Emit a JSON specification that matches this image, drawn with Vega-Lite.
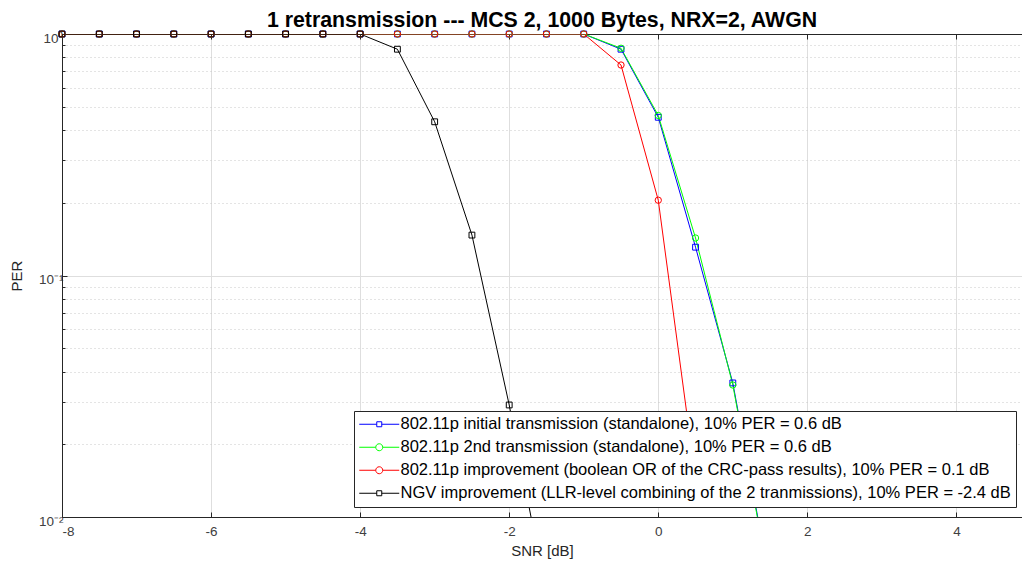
{
  "$schema": "https://vega.github.io/schema/vega-lite/v6.json",
  "width": 960,
  "height": 483,
  "autosize": {"type": "none"},
  "padding": {"left": 62, "top": 34, "right": 0, "bottom": 48},
  "background": "white",
  "title": {
    "text": "1 retransmission --- MCS 2, 1000 Bytes, NRX=2, AWGN",
    "font": "Liberation Sans",
    "fontSize": 21.3,
    "fontWeight": "bold",
    "color": "#000000",
    "anchor": "middle",
    "frame": "group",
    "offset": -2
  },
  "config": {
    "view": {"stroke": null},
    "axis": {
      "labelFont": "Liberation Sans",
      "titleFont": "Liberation Sans",
      "domainColor": "#262626",
      "tickColor": "#262626",
      "labelColor": "#404040",
      "titleColor": "#262626",
      "titleFontWeight": "normal"
    }
  },
  "data": {
    "values": [
      {"s": "init", "snr": -8, "per": 1}, {"s": "init", "snr": -7.5, "per": 1}, {"s": "init", "snr": -7, "per": 1}, {"s": "init", "snr": -6.5, "per": 1},
      {"s": "init", "snr": -6, "per": 1}, {"s": "init", "snr": -5.5, "per": 1}, {"s": "init", "snr": -5, "per": 1}, {"s": "init", "snr": -4.5, "per": 1},
      {"s": "init", "snr": -4, "per": 1}, {"s": "init", "snr": -3.5, "per": 1}, {"s": "init", "snr": -3, "per": 1}, {"s": "init", "snr": -2.5, "per": 1},
      {"s": "init", "snr": -2, "per": 1}, {"s": "init", "snr": -1.5, "per": 1}, {"s": "init", "snr": -1, "per": 1}, {"s": "init", "snr": -0.5, "per": 0.865},
      {"s": "init", "snr": 0, "per": 0.452}, {"s": "init", "snr": 0.5, "per": 0.131}, {"s": "init", "snr": 1, "per": 0.0359}, {"s": "init", "snr": 1.5, "per": 0.0053},
      {"s": "2nd", "snr": -8, "per": 1}, {"s": "2nd", "snr": -7.5, "per": 1}, {"s": "2nd", "snr": -7, "per": 1}, {"s": "2nd", "snr": -6.5, "per": 1},
      {"s": "2nd", "snr": -6, "per": 1}, {"s": "2nd", "snr": -5.5, "per": 1}, {"s": "2nd", "snr": -5, "per": 1}, {"s": "2nd", "snr": -4.5, "per": 1},
      {"s": "2nd", "snr": -4, "per": 1}, {"s": "2nd", "snr": -3.5, "per": 1}, {"s": "2nd", "snr": -3, "per": 1}, {"s": "2nd", "snr": -2.5, "per": 1},
      {"s": "2nd", "snr": -2, "per": 1}, {"s": "2nd", "snr": -1.5, "per": 1}, {"s": "2nd", "snr": -1, "per": 1}, {"s": "2nd", "snr": -0.5, "per": 0.873},
      {"s": "2nd", "snr": 0, "per": 0.46}, {"s": "2nd", "snr": 0.5, "per": 0.143}, {"s": "2nd", "snr": 1, "per": 0.0352}, {"s": "2nd", "snr": 1.5, "per": 0.0052},
      {"s": "or", "snr": -8, "per": 1}, {"s": "or", "snr": -7.5, "per": 1}, {"s": "or", "snr": -7, "per": 1}, {"s": "or", "snr": -6.5, "per": 1},
      {"s": "or", "snr": -6, "per": 1}, {"s": "or", "snr": -5.5, "per": 1}, {"s": "or", "snr": -5, "per": 1}, {"s": "or", "snr": -4.5, "per": 1},
      {"s": "or", "snr": -4, "per": 1}, {"s": "or", "snr": -3.5, "per": 1}, {"s": "or", "snr": -3, "per": 1}, {"s": "or", "snr": -2.5, "per": 1},
      {"s": "or", "snr": -2, "per": 1}, {"s": "or", "snr": -1.5, "per": 1}, {"s": "or", "snr": -1, "per": 1}, {"s": "or", "snr": -0.5, "per": 0.744},
      {"s": "or", "snr": 0, "per": 0.205}, {"s": "or", "snr": 0.5, "per": 0.0144},
      {"s": "ngv", "snr": -8, "per": 1}, {"s": "ngv", "snr": -7.5, "per": 1}, {"s": "ngv", "snr": -7, "per": 1}, {"s": "ngv", "snr": -6.5, "per": 1},
      {"s": "ngv", "snr": -6, "per": 1}, {"s": "ngv", "snr": -5.5, "per": 1}, {"s": "ngv", "snr": -5, "per": 1}, {"s": "ngv", "snr": -4.5, "per": 1},
      {"s": "ngv", "snr": -4, "per": 1}, {"s": "ngv", "snr": -3.5, "per": 0.865}, {"s": "ngv", "snr": -3, "per": 0.433}, {"s": "ngv", "snr": -2.5, "per": 0.147},
      {"s": "ngv", "snr": -2, "per": 0.0291}, {"s": "ngv", "snr": -1.5, "per": 0.0047}
    ]
  },
  "layer": [
    {
      "mark": {"type": "point", "opacity": 0},
      "encoding": {
        "x": {
          "field": "snr", "type": "quantitative",
          "scale": {"domain": [-8, 4.88], "nice": false, "zero": false},
          "axis": {"orient": "top", "values": [-8, -6, -4, -2, 0, 2, 4], "labels": false, "tickSize": -5, "grid": false, "title": null, "domain": true}
        },
        "y": {
          "field": "per", "type": "quantitative",
          "scale": {"type": "log", "domain": [0.01, 1], "nice": false},
          "axis": {"orient": "left", "values": [0.02, 0.03, 0.04, 0.05, 0.06, 0.07, 0.08, 0.09, 0.2, 0.3, 0.4, 0.5, 0.6, 0.7, 0.8, 0.9], "labels": false, "tickSize": -3, "grid": true, "gridDash": [1, 3], "gridColor": "#c8c8c8", "domain": false, "title": null}
        }
      }
    },
    {
      "mark": {"type": "line", "strokeWidth": 1, "clip": true},
      "encoding": {
        "x": {
          "field": "snr", "type": "quantitative",
          "scale": {"domain": [-8, 4.88], "nice": false, "zero": false},
          "axis": {"orient": "bottom", "values": [-8, -6, -4, -2, 0, 2, 4], "tickSize": -5, "grid": true, "gridColor": "#dedede", "labelFontSize": 13.5, "labelPadding": 12, "labelExpr": "'' + datum.value", "title": "SNR [dB]", "titleFontSize": 15, "titlePadding": 6}
        },
        "y": {
          "field": "per", "type": "quantitative",
          "scale": {"type": "log", "domain": [0.01, 1], "nice": false},
          "axis": {"orient": "left", "values": [0.01, 0.1, 1], "tickSize": -5, "grid": true, "gridColor": "#dedede", "labelFontSize": 13.5, "labelPadding": 4, "labelOffset": 4, "labelExpr": "datum.value >= 0.5 ? '10⁰' : (datum.value >= 0.05 ? '10⁻¹' : '10⁻²')", "title": "PER", "titleFontSize": 15, "titlePadding": 14}
        },
        "color": {
          "field": "s", "type": "nominal",
          "scale": {"domain": ["init", "2nd", "or", "ngv"], "range": ["#0000ff", "#00ff00", "#ff0000", "#000000"]},
          "legend": {
            "orient": "none",
            "legendX": 292,
            "legendY": 377,
            "title": null,
            "padding": 5,
            "strokeColor": "#262626",
            "fillColor": "white",
            "labelFont": "Liberation Sans",
            "labelFontSize": 16.5,
            "labelColor": "#000000",
            "labelLimit": 2000,
            "symbolSize": 100,
            "symbolOffset": 12,
            "labelOffset": 13,
            "rowPadding": 6,
            "symbolStrokeWidth": 1,
            "labelExpr": "datum.value == 'init' ? '802.11p initial transmission (standalone), 10% PER = 0.6 dB' : datum.value == '2nd' ? '802.11p 2nd transmission (standalone), 10% PER = 0.6 dB' : datum.value == 'or' ? '802.11p improvement (boolean OR of the CRC-pass results), 10% PER = 0.1 dB' : 'NGV improvement (LLR-level combining of the 2 tranmissions), 10% PER = -2.4 dB'",
            "encode": {
              "symbols": {
                "update": {
                  "shape": {"signal": "(datum.value == 'init' || datum.value == 'ngv') ? 'M-4,0H-0.5M0.5,0H4M-0.5,-0.5H0.5V0.5H-0.5Z' : 'M-4,0H-0.7M0.7,0H4M0.7,0A0.7,0.7 0 1,1 -0.7,0A0.7,0.7 0 1,1 0.7,0Z'"},
                  "fill": {"value": "transparent"}
                }
              }
            }
          }
        }
      }
    },
    {
      "transform": [{"filter": "datum.per >= 0.01 && (datum.s == 'init')"}],
      "mark": {"type": "point", "shape": "square", "filled": false, "strokeWidth": 1, "size": 34, "opacity": 1, "color": "#0000ff"},
      "encoding": {
        "x": {"field": "snr", "type": "quantitative", "scale": {"domain": [-8, 4.88], "nice": false, "zero": false}, "axis": null},
        "y": {"field": "per", "type": "quantitative", "scale": {"type": "log", "domain": [0.01, 1], "nice": false}, "axis": null}
      }
    },
    {
      "transform": [{"filter": "datum.per >= 0.01 && (datum.s == '2nd')"}],
      "mark": {"type": "point", "shape": "circle", "filled": false, "strokeWidth": 1, "size": 40, "opacity": 1, "color": "#00ff00"},
      "encoding": {
        "x": {"field": "snr", "type": "quantitative", "scale": {"domain": [-8, 4.88], "nice": false, "zero": false}, "axis": null},
        "y": {"field": "per", "type": "quantitative", "scale": {"type": "log", "domain": [0.01, 1], "nice": false}, "axis": null}
      }
    },
    {
      "transform": [{"filter": "datum.per >= 0.01 && (datum.s == 'or')"}],
      "mark": {"type": "point", "shape": "circle", "filled": false, "strokeWidth": 1, "size": 40, "opacity": 1, "color": "#ff0000"},
      "encoding": {
        "x": {"field": "snr", "type": "quantitative", "scale": {"domain": [-8, 4.88], "nice": false, "zero": false}, "axis": null},
        "y": {"field": "per", "type": "quantitative", "scale": {"type": "log", "domain": [0.01, 1], "nice": false}, "axis": null}
      }
    },
    {
      "transform": [{"filter": "datum.per >= 0.01 && (datum.s == 'ngv')"}],
      "mark": {"type": "point", "shape": "square", "filled": false, "strokeWidth": 1, "size": 34, "opacity": 1, "color": "#000000"},
      "encoding": {
        "x": {"field": "snr", "type": "quantitative", "scale": {"domain": [-8, 4.88], "nice": false, "zero": false}, "axis": null},
        "y": {"field": "per", "type": "quantitative", "scale": {"type": "log", "domain": [0.01, 1], "nice": false}, "axis": null}
      }
    }
  ],
  "resolve": {"scale": {"x": "independent", "y": "independent"}, "axis": {"x": "independent", "y": "independent"}}
}
